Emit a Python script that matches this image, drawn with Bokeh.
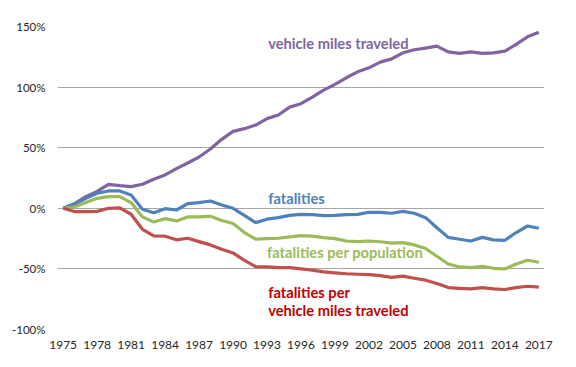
from bokeh.plotting import figure
from bokeh.models import FixedTicker, Range1d, Label, CustomJSTickFormatter
from bokeh.embed import file_html
from bokeh.resources import INLINE

years = list(range(1975, 2018))

vmt = [0, 3.8, 9.6, 14, 19.8, 18.7, 17.9, 19.8, 24, 27.5, 32.7, 37.4, 42.3, 48.9,
       56.9, 63.5, 65.7, 68.7, 74, 77, 83.5, 86.3, 91.8, 97.5, 102.2, 107.7, 112.6,
       115.9, 120.6, 123.3, 128.3, 130.8, 132.2, 133.8, 129.1, 127.8, 129.1, 127.8,
       128.3, 129.7, 135.2, 141.5, 145.3]

fatalities = [0, 3.3, 8.2, 12.4, 14.3, 14.3, 11, -0.8, -3.6, -0.3, -1.4, 3.8, 4.7, 6,
              2.7, 0, -5.8, -11.8, -9, -7.7, -5.8, -5, -5.2, -6, -5.8, -5.2, -5,
              -3.3, -3.4, -4.1, -2.5, -4.1, -7.7, -16, -24, -25.5, -27, -24, -26,
              -26.4, -20, -14.6, -16.5]

per_population = [0, 1.1, 4.7, 8.2, 9.6, 9.6, 4.7, -7.1, -11.3, -8.5, -10.4, -7.1,
                  -7.1, -6.6, -10, -12.6, -20, -25.5, -25, -24.7, -23.6, -22.5, -23,
                  -24.2, -25, -27, -27.5, -27, -27.6, -28.8, -28.3, -30.2, -33.2,
                  -39.6, -46, -48.4, -49, -47.8, -49.5, -50, -46, -42.9, -44.5]

per_vmt = [0, -2.7, -2.7, -2.5, 0, 0.3, -4.9, -17.3, -22.8, -23, -26, -24.7, -27.5,
           -30.2, -33.8, -36.8, -42.9, -48.1, -48.4, -49, -49, -50, -51, -52.5, -53.3,
           -54, -54.4, -54.7, -55.5, -57, -56, -57.7, -59.3, -62, -65.4, -66, -66.5,
           -65.4, -66.5, -67, -65.4, -64.3, -65]

x_ticks = list(range(1975, 2018, 3))
y_ticks = [-100, -50, 0, 50, 100, 150]

series = [
    (vmt, "#8064A2"),
    (fatalities, "#4F81BD"),
    (per_population, "#9BBB59"),
    (per_vmt, "#C0504D"),
]

labels = [
    ("vehicle miles traveled", 1993.1, 136.3, "#8064A2"),
    ("fatalities", 1993.1, 8.5, "#4F81BD"),
    ("fatalities per population", 1993.0, -36.2, "#9BBB59"),
    ("fatalities per", 1993.1, -69.0, "#C00000"),
    ("vehicle miles traveled", 1993.1, -84.3, "#C00000"),
]

p = figure(width=568, height=359, output_backend="svg", toolbar_location=None,
           x_range=Range1d(1974.5, 2017.5), y_range=Range1d(-100, 150),
           min_border_left=57, min_border_right=24, min_border_top=26,
           min_border_bottom=30)
p.outline_line_color = None
p.background_fill_color = "white"
p.border_fill_color = "white"

for vals, color in series:
    p.line(years, vals, line_color=color, line_width=3.2, line_join="round")

p.xgrid.grid_line_color = None
p.ygrid.grid_line_color = "#A6A6A6"
p.ygrid.grid_line_width = 1
p.ygrid.ticker = FixedTicker(ticks=y_ticks)

p.xaxis.ticker = FixedTicker(ticks=x_ticks)
p.yaxis.ticker = FixedTicker(ticks=y_ticks)
p.yaxis.formatter = CustomJSTickFormatter(code="return tick + '%';")
for ax in (p.xaxis[0], p.yaxis[0]):
    ax.axis_line_color = None
    ax.major_tick_line_color = None
    ax.minor_tick_line_color = None
    ax.major_tick_out = 0
    ax.major_tick_in = 0
    ax.minor_tick_out = 0
    ax.major_label_text_font = "Lato"
    ax.major_label_text_color = "#262626"
p.xaxis.major_label_text_font_size = "12px"
p.yaxis.major_label_text_font_size = "11.5px"
p.xaxis.major_label_standoff = 11
p.yaxis.major_label_standoff = 12

for text, x, y, color in labels:
    p.add_layout(Label(x=x, y=y, text=text, text_color=color, text_font="Lato",
                       text_font_style="bold", text_font_size="14.7px",
                       text_baseline="middle", text_align="left"))

open("out.html", "w").write(file_html(p, INLINE))
